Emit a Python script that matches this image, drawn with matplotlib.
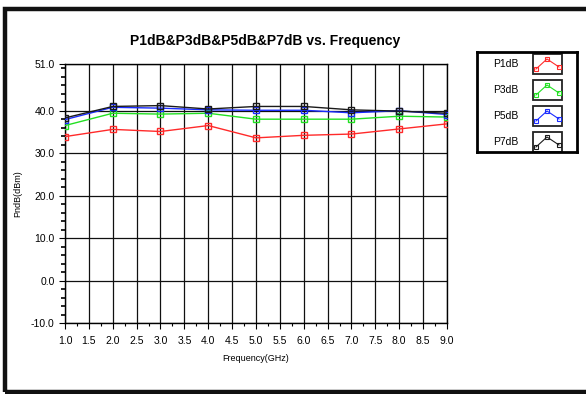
import matplotlib.pyplot as plt
from matplotlib.ticker import MultipleLocator, FixedLocator
from matplotlib.patches import Rectangle

plt.rcParams['font.family'] = ['Liberation Sans', 'DejaVu Sans']

freq = [1, 2, 3, 4, 5, 6, 7, 8, 9]
p1db = [33.9, 35.6, 35.1, 36.5, 33.6, 34.2, 34.5, 35.7, 36.9]
p3db = [36.5, 39.4, 39.2, 39.4, 38.0, 38.0, 38.0, 38.7, 38.5]
p5db = [37.9, 40.8, 40.6, 40.2, 40.1, 40.1, 39.5, 40.0, 39.1]
p7db = [38.3, 41.0, 41.2, 40.4, 41.0, 41.0, 40.2, 39.9, 39.4]

names = ['P1dB', 'P3dB', 'P5dB', 'P7dB']
colors = ['#ff2a2a', '#22e022', '#1a2cff', '#1a1a1a']
series = [p1db, p3db, p5db, p7db]

y_major = [-10, 0, 10, 20, 30, 40, 51]

fig = plt.figure(figsize=(5.86, 3.94), dpi=100)
ax = fig.add_axes([0.1109, 0.1802, 0.6519, 0.6574])

for vals, c in zip(series, colors):
    ax.plot(freq, vals, color=c, lw=1.0, marker='s', ms=4.5,
            mfc='none', mec=c, mew=1.0, zorder=3)

ax.set_xlim(1, 9)
ax.set_ylim(-10, 51)
ax.xaxis.set_major_locator(MultipleLocator(0.5))
ax.xaxis.set_minor_locator(MultipleLocator(0.25))
ax.yaxis.set_major_locator(FixedLocator(y_major))
ax.yaxis.set_minor_locator(MultipleLocator(2))
ax.set_xticklabels([f'{v:.1f}' for v in ax.get_xticks()])
ax.set_yticklabels([f'{v:.1f}' for v in y_major])
ax.tick_params(axis='both', which='major', labelsize=7.5, length=4, width=0.8,
               colors='black', direction='out')
ax.tick_params(axis='x', which='minor', length=2.5, width=0.8)
ax.tick_params(axis='y', which='minor', length=3, width=1.2)
ax.tick_params(axis='x', which='major', pad=5)
ax.grid(True, which='major', color='#101010', lw=0.9)
for s in ax.spines.values():
    s.set_linewidth(1.0)

ax.set_xlabel('Frequency(GHz)', fontsize=6.5, labelpad=6)
ax.set_ylabel('PndB(dBm)', fontsize=6.5, labelpad=6)
fig.text(0.452, 0.897, 'P1dB&P3dB&P5dB&P7dB vs. Frequency',
         fontsize=10, fontweight='bold', ha='center', va='center')

# outer frame
fig.patches.append(Rectangle((0.008, 0.004), 1.1, 0.972, transform=fig.transFigure,
                             fill=False, ec='#111111', lw=3.2))

# legend box
lg = fig.add_axes([477 / 586, 1 - 152 / 394, 100 / 586, 100 / 394])
lg.set_xlim(0, 100)
lg.set_ylim(100, 0)
lg.set_xticks([])
lg.set_yticks([])
for s in lg.spines.values():
    s.set_linewidth(2.0)
for i, (name, c) in enumerate(zip(names, colors)):
    top = 2 + i * 26
    lg.text(29, top + 10, name, fontsize=7.5, ha='center', va='center')
    lg.add_patch(Rectangle((56, top), 29, 20, fill=False, ec='#222222', lw=1.3))
    lg.plot([59, 70, 82], [top + 15, top + 5, top + 13], color=c, lw=0.8,
            marker='s', ms=3, mfc='none', mec=c, mew=0.8)

fig.savefig('out.png', dpi=100)
